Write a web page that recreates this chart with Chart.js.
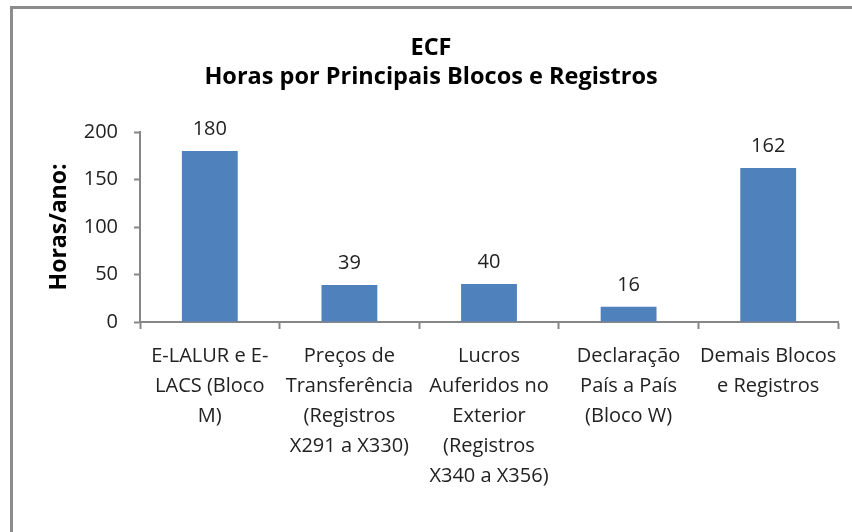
<!DOCTYPE html>
<html>
<head>
<meta charset="utf-8">
<script src="https://cdn.jsdelivr.net/npm/chart.js@4"></script>
<style>
  html, body { margin: 0; padding: 0; background: #fff; }
  #frame {
    position: absolute; left: 10px; top: 6px; width: 842px; height: 526px;
    border-left: 3px solid #8c8c8c; border-top: 3px solid #8c8c8c;
  }
  #chart { position: absolute; left: 0; top: 0; }
</style>
</head>
<body>
<div id="frame"></div>
<canvas id="chart" width="852" height="532"></canvas>
<script>
const categories = [
  ["E-LALUR e E-", "LACS (Bloco", "M)"],
  ["Preços de", "Transferência", "(Registros", "X291 a X330)"],
  ["Lucros", "Auferidos no", "Exterior", "(Registros", "X340 a X356)"],
  ["Declaração", "País a País", "(Bloco W)"],
  ["Demais Blocos", "e Registros"]
];
const hours = [180, 39, 40, 16, 162];
const yTicks = [0, 50, 100, 150, 200];

const FONT = "'Open Sans', Lato, sans-serif";
const axisGrey = "#868686";
const textColor = "#222";

// value labels above each bar
const valueLabels = {
  id: "valueLabels",
  afterDatasetsDraw(chart) {
    const ctx = chart.ctx;
    const meta = chart.getDatasetMeta(0);
    ctx.save();
    ctx.font = "20px " + FONT;
    ctx.fillStyle = textColor;
    ctx.textAlign = "center";
    ctx.textBaseline = "middle";
    meta.data.forEach((bar, i) => {
      ctx.fillText(String(hours[i]), bar.x, bar.y - 22);
    });
    ctx.restore();
  }
};

new Chart(document.getElementById("chart"), {
  type: "bar",
  data: {
    labels: categories,
    datasets: [{
      data: hours,
      backgroundColor: "#4f81bd",
      barPercentage: 0.4,
      categoryPercentage: 1
    }]
  },
  options: {
    responsive: false,
    animation: false,
    layout: { padding: { left: 24, right: 14, top: 0, bottom: 0 } },
    plugins: {
      legend: { display: false },
      tooltip: { enabled: false },
      title: {
        display: true,
        text: ["ECF", "Horas por Principais Blocos e Registros"],
        color: "#000",
        font: { family: FONT, size: 23.5, weight: "bold", lineHeight: 29 / 23.5 },
        padding: { top: 34, bottom: 40 }
      }
    },
    scales: {
      x: {
        afterFit: (s) => { s.height = 210; },
        border: { color: axisGrey, width: 2 },
        grid: { drawOnChartArea: false, color: axisGrey, tickLength: 7, tickWidth: 2, offset: true },
        ticks: {
          color: textColor, maxRotation: 0, autoSkip: false, padding: 12,
          font: { family: FONT, size: 20, lineHeight: 30 / 20 }
        }
      },
      y: {
        min: 0, max: 200,
        afterFit: (s) => { s.width = 116; },
        afterBuildTicks: (s) => { s.ticks = yTicks.map(v => ({ value: v })); },
        border: { color: axisGrey, width: 2 },
        grid: { drawOnChartArea: false, color: axisGrey, tickLength: 6, tickWidth: 2 },
        ticks: { color: textColor, padding: 16, font: { family: FONT, size: 20 } },
        title: {
          display: true, text: "Horas/ano:", color: "#000",
          font: { family: FONT, size: 23, weight: "bold", lineHeight: 1.2 },
          padding: { top: 22 }
        }
      }
    }
  },
  plugins: [valueLabels]
});
</script>
</body>
</html>
